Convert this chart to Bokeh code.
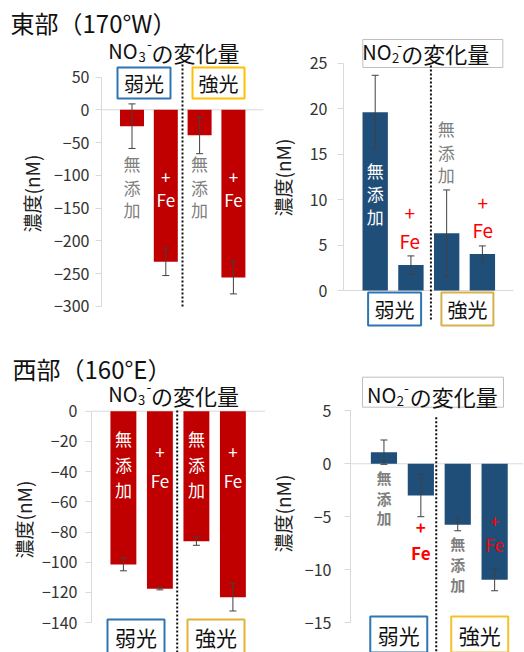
from bokeh.plotting import figure
from bokeh.layouts import column, row
from bokeh.models import (Range1d, Span, Whisker, TeeHead, ColumnDataSource,
                          Label, FixedTicker, Title)
from bokeh.core.properties import value
from bokeh.embed import file_html
from bokeh.resources import INLINE

FONT = "Noto Sans CJK JP"

# ---- data -------------------------------------------------------------
positions = [1, 2, 3, 4]                     # 弱光: 無添加, +Fe | 強光: 無添加, +Fe
light_levels = ["弱光", "強光"]

east_no3 = [-25, -232, -39, -256]
east_no3_err = [34, 21, 28, 25]
east_no2 = [19.6, 2.8, 6.3, 4.0]
east_no2_err = [4.05, 1.0, 4.75, 0.9]

west_no3 = [-101.5, -117.6, -86.1, -123.2]
west_no3_err = [4.2, 0.7, 2.7, 9.1]
west_no2 = [1.1, -3.0, -5.75, -10.95]
west_no2_err = [1.15, 2.0, 0.58, 1.05]

east_no3_ticks = [50, 0, -50, -100, -150, -200, -250, -300]
east_no2_ticks = [25, 20, 15, 10, 5, 0]
west_no3_ticks = [0, -20, -40, -60, -80, -100, -120, -140]
west_no2_ticks = [5, 0, -5, -10, -15]

RED = "#c00000"
NAVY = "#1f4e79"
GRAY_TXT = "#7f7f7f"
FE_RED = "#ff0000"
AXIS_GRAY = "#d9d9d9"
BOX_BLUE = "#2e75b6"

MU = "無添加"
FE = ["+", "Fe"]


def make_panel(W, H, ox, oy, fl, fr, ft, fb, bar1, step, zero, ppu,
               vals, errs, ticks, color, label_standoff, tick_standoff):
    """Figure whose plot frame sits at page pixels fl..fr / ft..fb."""
    p = figure(width=W, height=H,
               x_range=Range1d(1 + (fl - bar1) / step, 1 + (fr - bar1) / step),
               y_range=Range1d((zero - fb) / ppu, (zero - ft) / ppu),
               x_axis_type=None,
               min_border_left=fl - ox, min_border_right=ox + W - fr,
               min_border_top=ft - oy, min_border_bottom=oy + H - fb,
               output_backend="svg", toolbar_location=None,
               outline_line_color=None, background_fill_color="white",
               border_fill_color="white")
    p.grid.visible = False
    fx = lambda x: 1 + (x - bar1) / step
    fy = lambda y: (zero - y) / ppu

    ax = p.yaxis[0]
    ax.ticker = FixedTicker(ticks=ticks, minor_ticks=[])
    ax.bounds = (min(ticks), max(ticks))
    ax.axis_line_color = AXIS_GRAY
    ax.major_tick_line_color = AXIS_GRAY
    ax.major_tick_out = 6
    ax.major_tick_in = 0
    ax.minor_tick_line_color = None
    ax.major_label_text_font = FONT
    ax.major_label_text_font_size = "16px"
    ax.major_label_text_color = "#333333"
    ax.major_label_standoff = tick_standoff
    ax.axis_label = "濃度(nM)"
    ax.axis_label_text_font = FONT
    ax.axis_label_text_font_size = "19px"
    ax.axis_label_text_font_style = "normal"
    ax.axis_label_text_color = "#222222"
    ax.axis_label_standoff = label_standoff

    p.add_layout(Span(location=0, dimension="width", line_color=AXIS_GRAY,
                      line_width=1, level="underlay"))

    p.vbar(x=positions, top=vals, bottom=0, width=0.71, fill_color=color,
           line_color=None)

    src = ColumnDataSource(dict(
        x=positions,
        upper=[v + e for v, e in zip(vals, errs)],
        lower=[v - e for v, e in zip(vals, errs)]))
    p.add_layout(Whisker(source=src, base="x", upper="upper", lower="lower",
                         line_color="#404040", line_width=1, level="overlay",
                         upper_head=TeeHead(size=7, line_color="#404040", line_width=1),
                         lower_head=TeeHead(size=7, line_color="#404040", line_width=1)))
    return p, fx, fy


def stack(p, fy, x, ys, chars, color, size, bold=False):
    """Vertical text: one character (or token) per line."""
    p.text(x=[x] * len(chars), y=[fy(v) for v in ys], text=list(chars),
           text_color=color, text_font=value(FONT),
           text_font_size=f"{size}px", text_align="center",
           text_baseline="middle",
           text_font_style="bold" if bold else "normal")


def box(p, x, y, w, h, text, border, size=20):
    p.rect(x=[x], y=[y], width=w, height=h, width_units="screen",
           height_units="screen", fill_color="white", line_color=border,
           line_width=2 if border != "#bfbfbf" else 1)
    if text:
        p.text(x=[x], y=[y], text=[text], text_color="#111111",
               text_font=value(FONT), text_font_size=f"{size}px",
               text_align="center", text_baseline="middle")


def divider(p, x, y0, y1):
    p.segment(x0=[x], y0=[y0], x1=[x], y1=[y1], line_color="#111111",
              line_width=2, line_dash="2 2")


def label(p, x, y, text, size, align="left"):
    p.add_layout(Label(x=x, y=y, text=text, text_font=FONT,
                       text_font_size=f"{size}px", text_align=align,
                       text_baseline="middle", text_color="#111111"))


def heading(p, fx, fy, x_no, x_sub, x_sup, x_rest, y, sub):
    label(p, fx(x_no), fy(y), "NO", 20, align="right")
    label(p, fx(x_sub), fy(y + 6), sub, 13)
    label(p, fx(x_sup), fy(y - 7), "-", 14)
    label(p, fx(x_rest), fy(y + 1), "の変化量", 22)


def region_title(p, text, offset, standoff):
    p.add_layout(Title(text=text, align="left", offset=offset,
                       standoff=standoff, text_font=FONT,
                       text_font_size="24px", text_font_style="normal",
                       text_color="#111111"), "above")


# ---- 東部 NO3- ----------------------------------------------------------
tl, fx, fy = make_panel(265, 346, 0, 0, 101, 263, 40, 346, 131.5, 33.8, 109.3,
                        0.6552, east_no3, east_no3_err, east_no3_ticks, RED, 6, 6)
stack(tl, fy, 1, [163, 187, 209], MU, GRAY_TXT, 17)
stack(tl, fy, 2, [177, 199], FE, "white", 17)
stack(tl, fy, 3, [163, 187, 209], MU, GRAY_TXT, 17)
stack(tl, fy, 4, [177, 199], FE, "white", 17)
box(tl, fx(143.5), fy(82.5), 53, 31, light_levels[0], BOX_BLUE)
box(tl, fx(218), fy(82.5), 52, 31, light_levels[1], "#ffc000")
divider(tl, fx(182), fy(64), fy(307))
heading(tl, fx, fy, 137, 138, 146.5, 151, 50, "3")
region_title(tl, "東部（170°W）", -91, 2)

# ---- 東部 NO2- ----------------------------------------------------------
tr, fx, fy = make_panel(259, 346, 265, 0, 336, 513, 24, 330, 369, 37.2, 290,
                        9.1, east_no2, east_no2_err, east_no2_ticks, NAVY, 11, 10)
box(tr, fx(429), fy(53), 140, 28, "", "#bfbfbf")
stack(tr, fy, 1, [170, 193, 216], MU, "white", 17)
stack(tr, fy, fx(405), [213, 240], FE, FE_RED, 19)
stack(tr, fy, fx(443), [128, 152, 174], MU, GRAY_TXT, 17)
stack(tr, fy, fx(481), [203, 229], FE, FE_RED, 19)
box(tr, fx(389.2), fy(308.5), 53, 33, light_levels[0], BOX_BLUE)
box(tr, fx(465), fy(308.5), 52, 33, light_levels[1], "#d8b14a")
divider(tr, fx(427), fy(65), fy(320))
heading(tr, fx, fy, 386, 386.5, 392, 396, 51, "2")

# ---- 西部 NO3- ----------------------------------------------------------
bl, fx, fy = make_panel(265, 306, 0, 346, 91, 265, 386, 652, 122.9, 36.5, 410.7,
                        1.51, west_no3, west_no3_err, west_no3_ticks, RED, 2, 8)
stack(bl, fy, 1, [438, 464, 489], MU, "white", 17)
stack(bl, fy, 2, [452, 480], FE, "white", 17)
stack(bl, fy, 3, [438, 464, 489], MU, "white", 17)
stack(bl, fy, 4, [452, 480], FE, "white", 17)
box(bl, fx(135.5), fy(636), 57, 34, light_levels[0], BOX_BLUE, 21)
box(bl, fx(215.5), fy(636), 57, 34, light_levels[1], "#e2b23c", 21)
divider(bl, fx(176.7), fy(410), fy(652))
heading(bl, fx, fy, 137, 137.5, 146, 150.5, 393, "3")
region_title(bl, "西部（160°E）", -79, 2)

# ---- 西部 NO2- ----------------------------------------------------------
br, fx, fy = make_panel(259, 306, 265, 346, 342, 523, 374, 652, 377, 38.6, 463.3,
                        10.58, west_no2, west_no2_err, west_no2_ticks, NAVY, 6, 13)
box(br, fx(428.3), fy(391.7), 141, 30, "", "#bfbfbf")
stack(br, fy, 1, [476.7, 497.5, 517], MU, GRAY_TXT, 15, bold=True)
stack(br, fy, 2, [526.7, 551.7], FE, FE_RED, 17, bold=True)
stack(br, fy, 3, [542.7, 564, 584], MU, GRAY_TXT, 15, bold=True)
stack(br, fy, 4, [520.7, 544.3], FE, FE_RED, 17)
box(br, fx(392.5), fy(634), 57, 36, light_levels[0], BOX_BLUE, 21)
box(br, fx(477.2), fy(634), 57, 36, light_levels[1], "#f5c02a", 21)
divider(br, fx(431.7), fy(416.7), fy(652))
heading(br, fx, fy, 390, 390.5, 398, 404, 394, "2")

# each figure sits in its own column so that neighbouring frames stay independent
page = column(row(column(tl), column(tr), spacing=0),
              row(column(bl), column(br), spacing=0), spacing=0)

with open("out.html", "w") as f:
    f.write(file_html(page, INLINE))
